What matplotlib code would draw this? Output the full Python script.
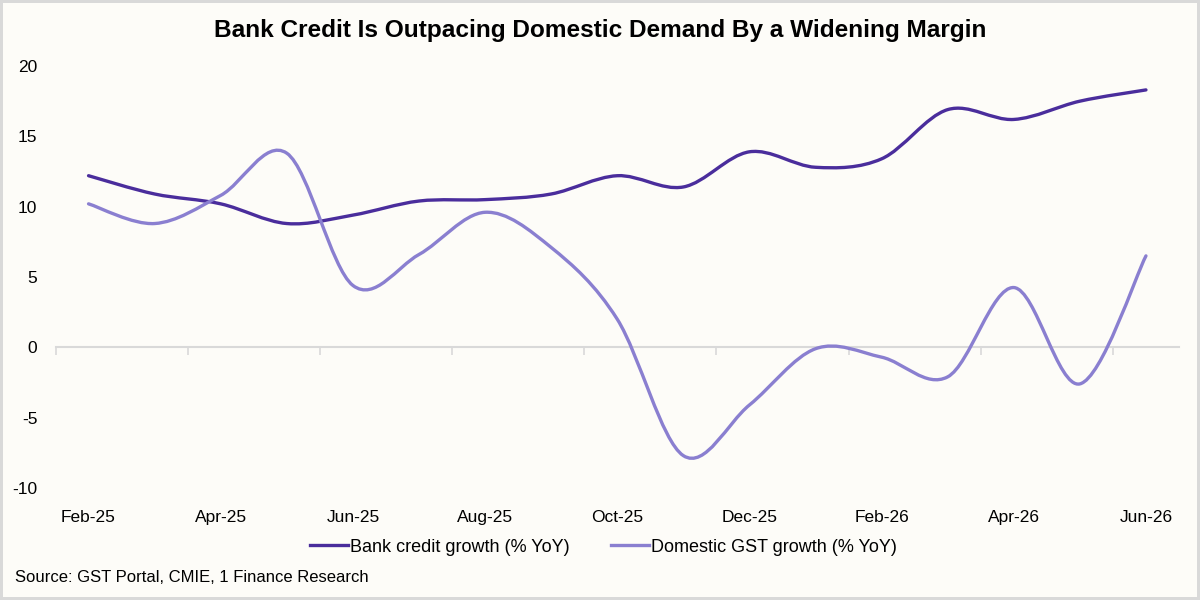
import matplotlib
matplotlib.use("Agg")
import matplotlib.pyplot as plt
from matplotlib.path import Path
from matplotlib.patches import PathPatch
from matplotlib.lines import Line2D
import numpy as np

months = ["Feb-25", "Mar-25", "Apr-25", "May-25", "Jun-25", "Jul-25", "Aug-25", "Sep-25",
          "Oct-25", "Nov-25", "Dec-25", "Jan-26", "Feb-26", "Mar-26", "Apr-26", "May-26", "Jun-26"]
bank_credit = [12.2, 10.9, 10.2, 8.8, 9.4, 10.4, 10.5, 10.9, 12.2, 11.4, 13.9, 12.8, 13.4, 16.9, 16.2, 17.5, 18.3]
gst_growth = [10.2, 8.8, 10.8, 13.8, 4.4, 6.6, 9.6, 7.1, 2.0, -7.7, -4.1, -0.1, -0.7, -2.1, 4.25, -2.6, 6.5]

dark = "#4a2d9c"
light = "#8a7fd0"
bg = "#fdfcf8"

plt.rcParams['font.family'] = ['Liberation Sans', 'DejaVu Sans']
plt.rcParams['axes.unicode_minus'] = False


def smooth_path(xs, ys):
    # excel-style smoothed line: cubic bezier through every point
    pts = np.column_stack([xs, ys]).astype(float)
    n = len(pts)
    verts = [pts[0]]
    codes = [Path.MOVETO]
    for i in range(n - 1):
        p0 = pts[i - 1] if i > 0 else pts[i]
        p1 = pts[i]
        p2 = pts[i + 1]
        p3 = pts[i + 2] if i + 2 < n else pts[i + 1]
        c1 = p1 + (p2 - p0) / 6.0
        c2 = p2 - (p3 - p1) / 6.0
        verts += [c1, c2, p2]
        codes += [Path.CURVE4] * 3
    return Path(verts, codes)


fig = plt.figure(figsize=(12, 6), dpi=100)
fig.patch.set_facecolor(bg)
fig.patch.set_edgecolor("#d9d9d9")
fig.patch.set_linewidth(3)
ax = fig.add_axes([0.04625, 0.1867, 0.93625, 0.7033])
ax.set_facecolor(bg)

x = np.arange(len(months))
for ys, col in [(bank_credit, dark), (gst_growth, light)]:
    ax.add_patch(PathPatch(smooth_path(x, ys), facecolor="none", edgecolor=col,
                           lw=2.4, capstyle="round", joinstyle="round", zorder=3))

ax.set_xlim(-0.5, len(months) - 0.5)
ax.set_ylim(-10, 20)
ax.set_yticks([-10, -5, 0, 5, 10, 15, 20])
ax.tick_params(axis='y', length=0, pad=13, labelsize=12.5)

for s in ["left", "right", "bottom"]:
    ax.spines[s].set_visible(False)
ax.spines["top"].set_position(("data", 0))
ax.spines["top"].set_color("#d9d9d9")
ax.spines["top"].set_linewidth(1.5)
ax.spines["top"].set_zorder(1)

ax.set_xticks(x[::2])
ax.set_xticklabels(months[::2])
ax.set_xticks(np.arange(-0.5, len(months) - 1, 2), minor=True)
ax.tick_params(axis='x', which='major', bottom=True, top=False, length=0, pad=16, labelsize=12.5)
ax.tick_params(axis='x', which='minor', bottom=False, top=True, direction='in',
               length=6, width=1.2, color="#d9d9d9")

fig.text(0.5, 0.949, "Bank Credit Is Outpacing Domestic Demand By a Widening Margin",
         ha='center', va='center', fontsize=17.6, fontweight='bold')

handles = [Line2D([], [], color=dark, lw=2.4), Line2D([], [], color=light, lw=2.4)]
fig.legend(handles, ["Bank credit growth (% YoY)", "Domestic GST growth (% YoY)"],
           loc='center', bbox_to_anchor=(0.503, 0.088), ncol=2, frameon=False,
           fontsize=13, handlelength=2.1, handletextpad=0.1, columnspacing=2.3)

fig.text(0.0125, 0.038, "Source: GST Portal, CMIE, 1 Finance Research", ha='left', va='center', fontsize=12)

fig.savefig("out.png", dpi=100, facecolor=bg, edgecolor="#d9d9d9")
